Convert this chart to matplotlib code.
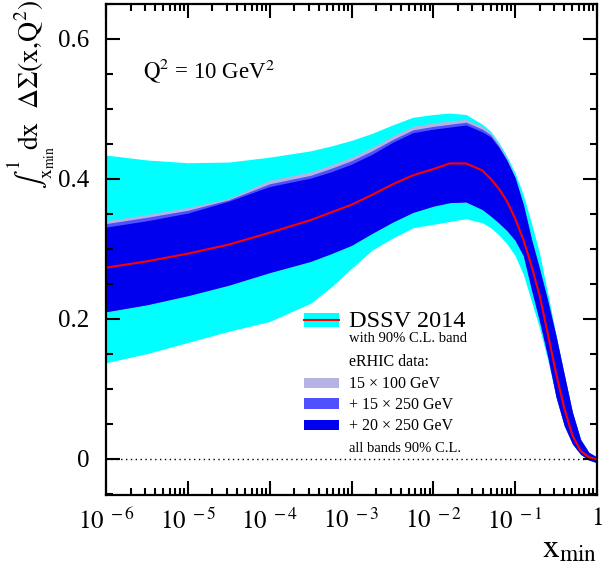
import matplotlib
matplotlib.use("Agg")
import matplotlib.pyplot as plt
from matplotlib.patches import Rectangle
from matplotlib.lines import Line2D
from matplotlib.ticker import LogLocator, MultipleLocator, FixedLocator, NullFormatter

plt.rcParams['font.family'] = ['Liberation Serif', 'DejaVu Serif']
plt.rcParams['mathtext.fontset'] = 'stix'

# x_min nodes
xmin = [1e-6, 3.16e-6, 1e-5, 3.16e-5, 1e-4, 3.16e-4, 5.62e-4, 1e-3, 1.78e-3, 3.16e-3,
        5.62e-3, 1e-2, 1.58e-2, 2.51e-2, 3.98e-2, 5.01e-2, 6.31e-2, 7.94e-2, 0.1, 0.126,
        0.158, 0.2, 0.251, 0.316, 0.398, 0.501, 0.631, 0.794, 1.0]

dssv_central = [0.273, 0.282, 0.293, 0.306, 0.323, 0.341, 0.352, 0.363, 0.377, 0.392,
                0.405, 0.414, 0.422, 0.422, 0.412, 0.400, 0.386, 0.368, 0.343, 0.313,
                0.276, 0.232, 0.178, 0.122, 0.072, 0.033, 0.011, 0.002, -0.001]
dssv_hi = [0.434, 0.427, 0.423, 0.424, 0.431, 0.440, 0.447, 0.455, 0.465, 0.477,
           0.488, 0.492, 0.494, 0.492, 0.478, 0.468, 0.452, 0.432, 0.408, 0.377,
           0.337, 0.292, 0.235, 0.177, 0.121, 0.067, 0.028, 0.009, 0.002]
dssv_lo = [0.137, 0.150, 0.166, 0.182, 0.196, 0.222, 0.245, 0.272, 0.298, 0.315,
           0.330, 0.335, 0.339, 0.343, 0.337, 0.330, 0.320, 0.307, 0.290, 0.263,
           0.225, 0.185, 0.140, 0.088, 0.047, 0.021, 0.006, -0.002, -0.006]
e100_hi = [0.340, 0.349, 0.359, 0.372, 0.398, 0.410, 0.420, 0.431, 0.445, 0.461,
           0.475, 0.480, 0.483, 0.485, 0.475, 0.466, 0.450, 0.429, 0.403, 0.364,
           0.314, 0.270, 0.225, 0.175, 0.120, 0.066, 0.027, 0.009, 0.002]
e250_hi = [0.336, 0.345, 0.355, 0.370, 0.393, 0.405, 0.415, 0.426, 0.440, 0.456,
           0.470, 0.475, 0.478, 0.481, 0.471, 0.463, 0.447, 0.427, 0.402, 0.363,
           0.314, 0.270, 0.225, 0.175, 0.120, 0.066, 0.027, 0.009, 0.002]
e20_hi = [0.331, 0.340, 0.351, 0.368, 0.389, 0.401, 0.410, 0.421, 0.435, 0.452,
          0.466, 0.471, 0.474, 0.477, 0.467, 0.460, 0.445, 0.426, 0.401, 0.363,
          0.314, 0.270, 0.225, 0.175, 0.120, 0.066, 0.027, 0.009, 0.002]
e_lo = [0.210, 0.220, 0.233, 0.248, 0.266, 0.282, 0.293, 0.305, 0.322, 0.338,
        0.352, 0.361, 0.366, 0.367, 0.356, 0.347, 0.337, 0.326, 0.312, 0.290,
        0.242, 0.195, 0.145, 0.088, 0.047, 0.021, 0.006, -0.002, -0.006]

c_cyan = '#00ffff'
c_lav = '#b3b3e6'
c_med = '#5050ff'
c_dark = '#0000ee'

fig = plt.figure(figsize=(6.13, 5.71), dpi=100)
ax = fig.add_axes([106/613, 1-494.5/571, 491/613, 490.5/571])

ax.fill_between(xmin, dssv_lo, dssv_hi, color=c_cyan, lw=0)
ax.fill_between(xmin, e_lo, e100_hi, color=c_lav, lw=0)
ax.fill_between(xmin, e_lo, e250_hi, color=c_med, lw=0)
ax.fill_between(xmin, e_lo, e20_hi, color=c_dark, lw=0)
ax.plot(xmin, dssv_central, color='red', lw=1.5)
ax.axhline(0, color='black', lw=1, ls=(0, (1, 2.5)))

ax.set_xscale('log')
ax.set_xlim(1e-6, 1)
ax.set_ylim(-0.0514, 0.65)

ax.xaxis.set_major_locator(FixedLocator([1e-6, 1e-5, 1e-4, 1e-3, 1e-2, 1e-1, 1]))
ax.xaxis.set_minor_locator(LogLocator(base=10, subs=range(2, 10), numticks=20))
ax.xaxis.set_minor_formatter(NullFormatter())
ax.set_xticklabels([r'$10^{\ -6}$', r'$10^{\ -5}$', r'$10^{\ -4}$', r'$10^{\ -3}$',
                    r'$10^{\ -2}$', r'$10^{\ -1}$', r'$1$'])
ax.yaxis.set_major_locator(FixedLocator([0, 0.2, 0.4, 0.6]))
ax.yaxis.set_minor_locator(MultipleLocator(0.05))
ax.set_yticklabels(['0', '0.2', '0.4', '0.6'])

ax.tick_params(which='both', direction='in', top=True, right=True, width=1.5)
ax.tick_params(which='major', length=10, labelsize=18)
ax.tick_params(which='minor', length=5)
ax.tick_params(axis='y', which='major', pad=12)
ax.tick_params(axis='x', which='major', pad=10)
for s in ax.spines.values():
    s.set_linewidth(1.6)

ax.set_ylabel(r'$\int_{\mathrm{x_{min}}}^{1}\!\mathrm{dx}\ \ \Delta\Sigma(\mathrm{x{,}Q^{2}})$',
              fontsize=20, loc='top')
ax.yaxis.set_label_coords(-0.1, 1.008)
ax.set_xlabel(r'$\mathrm{x_{min}}$', fontsize=24, loc='right')
ax.xaxis.set_label_coords(1.0, -0.08)

ax.text(0.075, 0.849, r'$\mathrm{Q^{2}}$ = 10 GeV$^{2}$', transform=ax.transAxes,
        fontsize=16.5, va='baseline')

# legend drawn by hand (pixel layout of the original)
def axpt(px, py):
    return (px - 106) / 491, (494.5 - py) / 490.5

def key(py0, py1, color):
    x0, y1 = axpt(304, py1)
    x1, y0 = axpt(339, py0)
    ax.add_patch(Rectangle((x0, y1), x1 - x0, y0 - y1, transform=ax.transAxes,
                           color=color, lw=0, clip_on=False))

def label(py, s, size):
    x, y = axpt(349, py)
    ax.text(x, y, s, transform=ax.transAxes, fontsize=size, va='baseline')

key(313, 327, c_cyan)
lx0, ly = axpt(304, 320)
lx1, _ = axpt(339, 320)
ax.add_line(Line2D([lx0, lx1], [ly, ly], transform=ax.transAxes, color='red', lw=1.5))
label(327, 'DSSV 2014', 17.5)
label(342, 'with 90% C.L. band', 10.5)
label(366, 'eRHIC data:', 11.5)
key(378, 388, c_lav)
label(388, '15 × 100 GeV', 11.5)
key(398, 409, c_med)
label(409, '+ 15 × 250 GeV', 11.5)
key(420, 430, c_dark)
label(430, '+ 20 × 250 GeV', 11.5)
label(452, 'all bands 90% C.L.', 10.5)

fig.savefig('out.png', dpi=100)
